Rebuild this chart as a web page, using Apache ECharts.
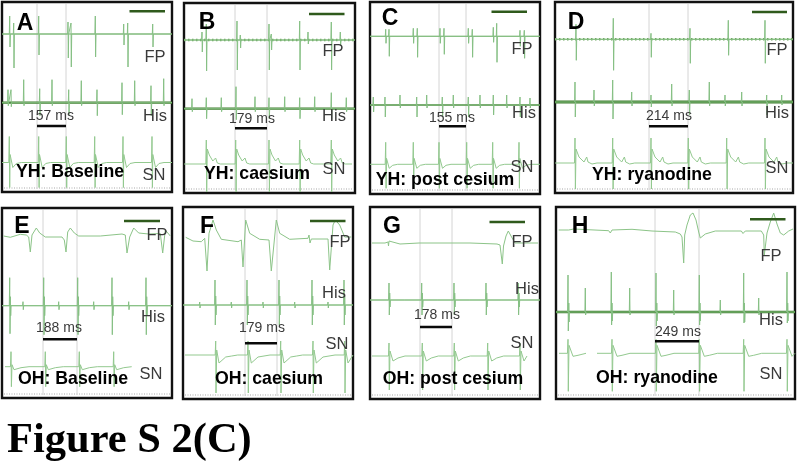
<!DOCTYPE html>
<html><head><meta charset="utf-8">
<style>html,body{margin:0;padding:0;background:#fff}#c{width:797px;height:466px;filter:blur(0.35px)}</style>
<script src="https://cdn.jsdelivr.net/npm/echarts@6/dist/echarts.min.js"></script>
</head><body><div id="c"></div>
<script>
// ---------- text ----------
const letters = ['A','B','C','D','E','F','G','H'];
const conditions = ['YH: Baseline','YH: caesium','YH: post cesium','YH: ryanodine','OH: Baseline','OH: caesium','OH: post cesium','OH: ryanodine'];
const intervals = ['157 ms','179 ms','155 ms','214 ms','188 ms','179 ms','178 ms','249 ms'];
const figureTitle = 'Figure S 2(C)';

// ---------- traces (x in recording units from the left of a panel) ----------
// spike tables: [x, up, down]
const fpA = [[7.7,18,13],[11.7,11,34],[36.7,18,21],[66,12,24],[69,11,33],[93.3,18,23],[121.7,10,11],[125.7,11,33],[150.7,10,13]];
const fpB = [[18,8,12],[22.3,16,31],[53,19,30],[56.3,5,8],[85,16,30],[87.3,6,10],[115.7,19,30],[124,8,4],[147.3,18,30],[156.3,8,6]];
const fpC = [[15.7,7,7],[19,7,20],[43.3,8,7],[47.3,8,21],[70,8,7],[74,8,18],[98.3,8,7],[102.3,7,21],[123.3,9,6],[126.7,13,26],[150,6,10],[154.3,6,22]];
const fpD = [[21,15,21],[58.3,21,31],[96,6,18],[135,11,24],[173.3,19,16],[210,19,24]];
// slow-wave traces: [x, value]
const fpE = [[1.7,-1],[8.3,-2.3],[18.3,0.7],[24.3,0],[26.7,-2],[28.3,-17],[30,0],[34.3,7],[37.7,2],[43.3,-2],[60,-2],[62.3,-5],[64,-17],[65.7,3],[68.3,7],[72.3,2],[76.7,-1],[98.3,-1],[120,1],[123.3,0],[125,-18],[127.7,-2],[131.7,7],[136.7,2],[146.7,1],[158.3,1.5],[160.7,-18],[163.3,5],[168.3,-1]];
const fpF = [[2.7,2.7],[10,-1],[18.3,-1.7],[21.7,1.7],[24,-31],[26,6.7],[30,20],[33.3,10],[38.3,0.7],[55,-1.7],[58.3,0],[60,-27],[62.7,20],[66.7,6.7],[76.7,0.7],[86,0],[88.3,-31],[93.3,20],[96.7,6.7],[106.7,0.7],[125,1.7],[126,5],[127,-3],[128.3,1],[145,1],[146.7,-30],[150,15],[152.3,20],[156.7,15],[161.7,3],[168.3,3]];
const fpG = [[2,0],[15,0],[18,1],[18.5,-3],[19,2],[19.5,0],[30,-1],[49,0],[50,2],[50.5,-2],[51,0],[82,0],[82.5,2],[83,-2],[83.5,0],[100,0],[127,-1],[130,-2],[132.3,-21],[133.5,-3],[136,7],[138.3,12],[141,7],[145,0],[168,0]];
const fpH = [[2.7,0],[12.7,0],[17.7,1],[52.7,-0.7],[54.3,-3],[56,0],[76,0.7],[96,-1],[119.3,-2],[124.3,-4],[126,-7],[127.7,-33],[128.7,-5],[131,5],[134.3,15],[137,17],[140,10],[142.7,-2],[144.3,-8],[149.3,-4],[159.3,-1],[185.3,-1],[187,-3.5],[189.3,-1],[205.3,-1],[207.7,-5],[208.3,-25],[211,-3],[214.3,8],[217.7,17],[221,6],[224.3,-3],[227.7,-5],[232.7,-1],[237,1]];

const hisA = [[6,13,3],[9,13,4],[21.7,23,3],[37.7,14,13],[50,23,3],[66.7,13,12],[79.3,22,3],[95,13,13],[120,20,12],[132.7,22,3],[149,17,13],[161.7,24,3]];
const hisB = [[8,10,3],[22.3,11,10],[37.3,11,3],[52,22,11],[71,12,3],[85,11,10],[100.7,12,3],[115.7,11,10],[130.7,12,3],[147.3,16,10],[162.3,11,3]];
const hisC = [[3.3,8,7],[15,8,12],[30,10,3],[46.7,8,12],[56.7,10,3],[72.3,8,12],[83.3,10,3],[98.3,8,12],[110,10,3],[123.3,10,10],[136.7,10,3],[150,8,12],[160,7,3]];
const hisD = [[20,20,15],[39,12,4],[57.7,22,17],[76.7,10,4],[96,7,5],[116.7,18,4],[134.3,12,13],[154.3,20,4],[170,7,4],[186.7,10,4],[211.7,7,13],[226.7,7,3]];
const hisE = [[7.7,28,28],[8.4,9,10],[21,4,4],[41.7,28,29],[42.4,9,10],[56.7,4,4],[75.7,28,29],[76.4,9,10],[91.7,4,4],[110,28,29],[110.7,9,10],[126.7,4,4],[144,28,29],[144.7,9,10]];
const hisF = [[16.7,3,3],[32,25,20],[32.7,9,10],[48.3,3,3],[64,25,20],[64.7,9,10],[80,3,3],[96,25,20],[96.7,9,10],[111.7,3,3],[129,25,20],[129.7,9,10],[145,3,3],[161,25,20],[161.7,9,10]];
const hisG = [[19,17,15],[19.7,7,7],[35,2,2],[51.7,17,15],[52.4,7,7],[68,2,2],[84,17,15],[84.7,7,7],[100,2,2],[116,17,15],[116.7,7,7],[132.3,2,2],[148.3,17,15],[149,7,7]];
const hisH = [[12,37,19],[12.8,9,10],[29.3,24,3],[55.3,40,13],[56,9,9],[73.7,24,3],[100,39,14],[100.8,9,9],[117.7,22,3],[143.3,37,13],[144,9,9],[164.3,12,3],[187.7,39,11],[188.4,9,10],[202.7,14,3],[231,40,11],[231.7,9,9]];

// sinus node beats and one beat's shape: [x after the beat, value]
const snBeatsA = [7.3,36.7,64.3,92.7,121,150];
const snBeatsB = [22.3,51.7,85,115.7,147.3];
const snBeatsC = [15.7,43.3,69,96.7,122.7,149];
const snBeatsD = [20,57.7,96,133.3,171.7,210];
const snBeatsE = [9,43.3,77.3,111.7];
const snBeatsF = [32.7,65,97.7,130,161.7];
const snBeatsG = [19,52.3,84.3,117.7,150];
const snBeatsH = [12,56,100,143.3,187.7,231];
const snShapeA = [[-0.5,0],[0,26],[0.4,-25],[0.8,8],[3.5,-5],[7,-1],[12,0]];
const snShapeB = [[-0.5,0],[0,24],[0.4,-28],[1,15],[1.7,15],[3,9],[6.5,3],[7.5,3],[9.3,6],[11,1],[14,0]];
const snShapeC = [[-0.5,0],[0,22],[0.4,-24],[0.8,6],[3.5,-4],[7,-1],[12,0]];
const snShapeD = [[-0.5,0],[0,25],[0.4,-26],[1,14],[1.5,14],[4,6],[9,1],[10.5,2],[11.7,6],[13,1],[17,-1],[22,0]];
const snShapeE = [[-0.5,0],[0,15],[0.4,-20],[1,2],[3,-3],[10,-1],[18,0]];
const snShapeF = [[-0.5,0],[0,14],[0.3,-38],[1,5],[3.3,-8],[5,-7],[10,-2],[16,-1],[22,0]];
const snShapeG = [[-0.5,0],[0,13],[0.3,-34],[1,5],[4,-5],[9,-2],[16,0]];
const snShapeH = [[-0.5,0],[0,14],[0.3,-38],[1,8],[2.5,9],[5,-3],[7,-5],[10,-2],[18,0]];

// span of each sinus trace, and a recording gap in H
const snSpans = [[0,170],[0,168],[0,170],[0,238],[3,130],[2,170],[2,157],[3,239]];
const snGapH = [30.5,41];

// measurement cursors and scale bars, in the same x units
const cursors = [[35,64],[51,83],[69,96],[94,133],[41,75],[62,94],[50,82],[99,143]];
const scaleBars = [[127.5,163],[125,160.5],[121.5,157],[197,232],[122,158],[127,162.5],[119.5,155],[194,229.5]];

// ---------- layout ----------
const boxes = [[2,2,170,190],[184,3,171,190],[370,2,170,192],[555,2,238,191],[2,208,170,190],[183,207,170,192],[370,207,170,192],[556,207,239,192]];
const baseY = [[32,100.7,160.5],[37,105.7,161],[34.3,103,162.3],[37.3,100,161],[27,97.7,158.7],[33,98,148],[36,93,149],[23,105,146.3]];
const hisWidth = [2.2,2.2,1.6,3,0.9,0.9,0.9,2.6];
const barY = [[9.3,124],[11,125.3],[9.7,124.3],[10,124.3],[13,131.3],[14,136.3],[15,120],[12.3,134.3]];
const slowFP = [0,0,0,0,1,1,1,1];
const rippleFP = [0,1,0,1,0,0,0,0];

const fpTables = [fpA,fpB,fpC,fpD,fpE,fpF,fpG,fpH];
const hisTables = [hisA,hisB,hisC,hisD,hisE,hisF,hisG,hisH];
const snBeats = [snBeatsA,snBeatsB,snBeatsC,snBeatsD,snBeatsE,snBeatsF,snBeatsG,snBeatsH];
const snShapes = [snShapeA,snShapeB,snShapeC,snShapeD,snShapeE,snShapeF,snShapeG,snShapeH];

const letterPos = [[25,24],[207,23],[390,19],[576,23],[22,227],[207,227],[392,227],[580,227]];
const fpPos = [[155,57],[333,51],[522,49],[777,50],[157,235],[340,242],[522,242],[771,256]];
const hisPos = [[155,116],[334,116],[524,113],[777,113],[153,317],[334,293],[527,289],[771,320]];
const snPos = [[154,175],[334,169],[522,167],[777,168],[151,374],[337,344],[522,343],[771,374]];
const intervalPos = [[51,116],[252,119],[452,118],[669,116],[59,328],[262,328],[437,315],[678,332]];
const conditionPos = [[70,172],[257,174],[445,180],[652,175],[73,379],[269,379],[453,379],[657,378]];

// ---------- helpers ----------
function fromSpikes(tab, w){
  const out=[[0,0]];
  tab.forEach(s=>{ out.push([s[0]-0.4,0],[s[0],s[1]],[s[0]+0.3,-s[2]],[s[0]+0.7,0]); });
  out.push([w,0]);
  return out;
}
function fromBeats(beats, shape, span, gap){
  const out=[[span[0],0]];
  beats.forEach(b=>shape.forEach(p=>{
    const x=b+p[0];
    if(x>=span[0]&&x<=span[1]) out.push([x,p[1]]);
  }));
  out.push([span[1],0]);
  if(!gap) return out;
  const res=[];
  out.forEach(p=>{
    if(p[0]>gap[0]&&p[0]<gap[1]) return;
    if(p[0]>=gap[1]&&res.length&&res[res.length-1][0]<=gap[0]){res.push([gap[0],0],[null,null],[gap[1],0]);}
    res.push(p);
  });
  return res;
}

const grids=[],xAxes=[],yAxes=[],series=[],texts=[];
const GREEN='#86c084';
boxes.forEach((b,i)=>{
  const [l,t,w,h]=b;
  grids.push({left:l,top:t,width:w,height:h,show:true,borderColor:'#111',borderWidth:2.4,backgroundColor:'#fff'});
  xAxes.push({type:'value',gridIndex:i,min:0,max:w,show:false});
  yAxes.push({type:'value',gridIndex:i,min:0,max:h,show:false});
  const lift=(pts,yb)=>pts.map(p=>p[0]===null?[null,null]:[p[0],h-yb+p[1]]);
  const add=(data,color,width,extra)=>series.push(Object.assign({type:'line',xAxisIndex:i,yAxisIndex:i,data,showSymbol:false,symbol:'none',silent:true,animation:false,
    connectNulls:false,lineStyle:{color,width}},extra||{}));
  // ruler at the foot of the panel
  add([[2,4],[w-2,4]],'#a8a8a8',1.2,{lineStyle:{color:'#a8a8a8',width:1.2,type:[1,1.5]}});
  // cursors
  cursors[i].forEach(c=>add([[c,3],[c,h-2]],'#d4d4d4',1));
  const [yF,yH,yS]=baseY[i];
  const fp = slowFP[i]?fpTables[i]:fromSpikes(fpTables[i],w);
  if(!slowFP[i]) add(lift([[0,0],[w,0]],yF),'#74ad68',1);
  if(rippleFP[i]) add(lift([[0,0],[w,0]],yF),'#6ea662',2.4,{lineStyle:{color:'#6ea662',width:2.4,type:[1.5,2.5]}});
  add(lift(fp,yF),slowFP[i]?'#8cc488':GREEN,1);
  add(lift([[0,0],[w,0]],yH),i>=4&&i<7?'#7fb874':'#3f7d2c',hisWidth[i]);
  add(lift(fromSpikes(hisTables[i],w),yH),GREEN,1);
  add(lift(fromBeats(snBeats[i],snShapes[i],snSpans[i],i===7?snGapH:null),yS),'#93c98f',1);
  // scale bar and interval bar
  add([[scaleBars[i][0],h-barY[i][0]],[scaleBars[i][1],h-barY[i][0]]],'#2f5a1c',2.6);
  add([[cursors[i][0],h-barY[i][1]],[cursors[i][1],h-barY[i][1]]],'#0a0a0a',2.4);
  const tx=(p,s,size,weight,color,family)=>texts.push({type:'text',x:p[0],y:p[1],z:100,style:{text:s,x:0,y:0,align:'center',verticalAlign:'middle',
    font:`${weight} ${size}px ${family||'"Liberation Sans"'}`,fill:color}});
  tx(letterPos[i],letters[i],23,'bold','#000');
  tx(fpPos[i],'FP',16.5,'normal','#3a3a3a');
  tx(hisPos[i],'His',16.5,'normal','#3a3a3a');
  tx(snPos[i],'SN',16.5,'normal','#3a3a3a');
  tx(intervalPos[i],intervals[i],14,'normal','#3a3a3a');
  tx(conditionPos[i],conditions[i],17.7,'bold','#000');
});
texts.push({type:'text',x:7,y:441,z:100,style:{text:figureTitle,x:0,y:0,align:'left',verticalAlign:'middle',font:'bold 42.5px "Liberation Serif"',fill:'#000'}});

const chart=echarts.init(document.getElementById('c'),null,{renderer:'canvas'});
chart.setOption({animation:false,backgroundColor:'#fff',grid:grids,xAxis:xAxes,yAxis:yAxes,series,graphic:{elements:texts}});
</script></body></html>
